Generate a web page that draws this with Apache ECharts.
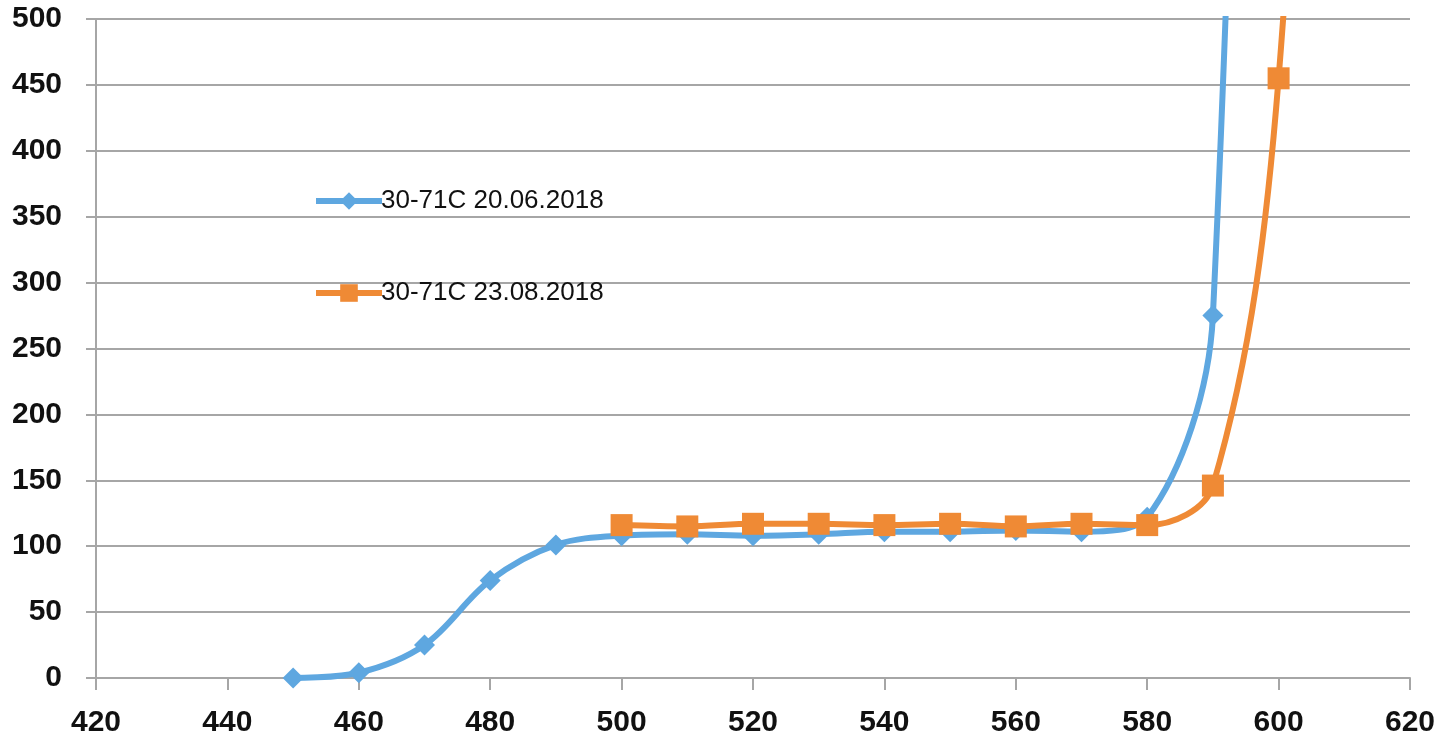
<!DOCTYPE html>
<html>
<head>
<meta charset="utf-8">
<script src="https://cdn.jsdelivr.net/npm/echarts@6/dist/echarts.min.js"></script>
<style>
  html, body { margin: 0; padding: 0; background: #ffffff; }
  #chart { width: 1445px; height: 741px; }
</style>
</head>
<body>
<div id="chart"></div>
<script>
// Wavelength (x) and measured value (y) for each sample run
const seriesNames = ['30-71C 20.06.2018', '30-71C 23.08.2018'];

const xJune = [450, 460, 470, 480, 490, 500, 510, 520, 530, 540, 550, 560, 570, 580, 590, 600];
const yJune = [0, 4, 25, 74, 101, 108, 109, 108, 109, 111, 111, 112, 111, 122, 275, 2200];

const xAugust = [500, 510, 520, 530, 540, 550, 560, 570, 580, 590, 600, 610];
const yAugust = [116, 115, 117, 117, 116, 117, 115, 117, 116, 146, 455, 1400];

const xTicks = { min: 420, max: 620, interval: 20 };
const yTicks = { min: 0, max: 500, interval: 50 };

const pairs = (xs, ys) => xs.map((x, i) => [x, ys[i]]);

const gridColor = '#a6a6a6';
const labelFont = {
  fontFamily: '"Liberation Sans", Arial, sans-serif',
  fontWeight: 'bold',
  fontSize: 30,
  color: '#111111'
};

const chart = echarts.init(document.getElementById('chart'), null, { renderer: 'canvas' });

chart.setOption({
  animation: false,
  backgroundColor: '#ffffff',
  grid: { left: 96, right: 35, top: 19, bottom: 63, containLabel: false },
  legend: {
    orient: 'vertical',
    left: 308,
    top: 183,
    itemWidth: 66,
    itemHeight: 22,
    itemGap: 66,
    data: seriesNames,
    lineStyle: { width: 6 },
    textStyle: {
      fontFamily: '"Liberation Sans", Arial, sans-serif',
      fontSize: 26,
      color: '#111111',
      padding: [0, 0, 0, -6]
    }
  },
  xAxis: {
    type: 'value',
    min: xTicks.min,
    max: xTicks.max,
    interval: xTicks.interval,
    axisLine: { show: true, onZero: false, lineStyle: { color: gridColor, width: 2 } },
    axisTick: { show: true, length: 12, lineStyle: { color: gridColor, width: 2 } },
    splitLine: { show: false },
    axisLabel: Object.assign({ margin: 30 }, labelFont)
  },
  yAxis: {
    type: 'value',
    min: yTicks.min,
    max: yTicks.max,
    interval: yTicks.interval,
    axisLine: { show: true, lineStyle: { color: gridColor, width: 2 } },
    axisTick: { show: true, length: 10, lineStyle: { color: gridColor, width: 2 } },
    splitLine: { show: true, lineStyle: { color: gridColor, width: 2 } },
    axisLabel: Object.assign({ margin: 34 }, labelFont)
  },
  series: [
    {
      name: seriesNames[0],
      type: 'line',
      smooth: 0.35,
      clip: true,
      data: pairs(xJune, yJune),
      symbol: 'diamond',
      symbolSize: 21,
      itemStyle: { color: '#5ea7e0' },
      lineStyle: { color: '#5ea7e0', width: 6 },
      z: 2
    },
    {
      name: seriesNames[1],
      type: 'line',
      smooth: 0.35,
      clip: true,
      data: pairs(xAugust, yAugust),
      symbol: 'rect',
      symbolSize: 22,
      itemStyle: { color: '#ef8a35' },
      lineStyle: { color: '#ef8a35', width: 6 },
      z: 3
    }
  ]
});
</script>
</body>
</html>
